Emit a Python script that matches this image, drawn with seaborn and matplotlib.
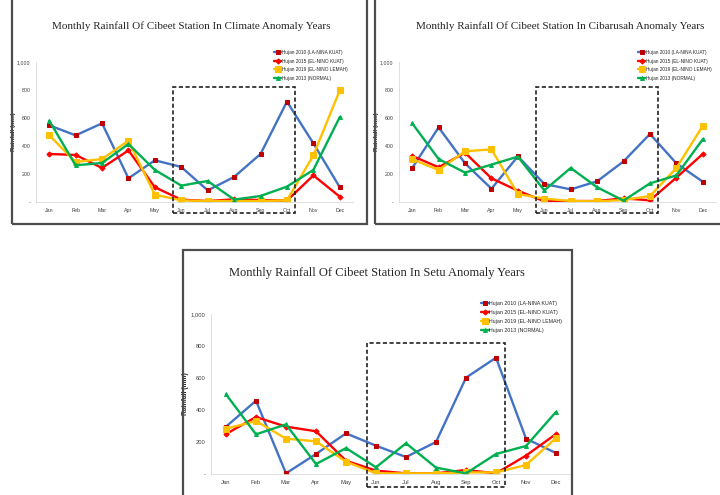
import pandas as pd
import matplotlib
matplotlib.use("Agg")
import matplotlib.pyplot as plt
import matplotlib.ticker as mticker
from matplotlib.patches import Rectangle
import seaborn as sns

# data (mm)
months = ["Jan", "Feb", "Mar", "Apr", "May", "Jun", "Jul", "Aug", "Sep", "Oct", "Nov", "Dec"]
series_names = ["Hujan 2010 (LA-NINA KUAT)", "Hujan 2015 (EL-NINO KUAT)",
                "Hujan 2019 (EL-NINO LEMAH)", "Hujan 2013 (NORMAL)"]

climate_2010 = [548, 476, 562, 169, 298, 250, 83, 179, 343, 717, 419, 105]
climate_2015 = [343, 336, 243, 369, 105, 17, 7, 19, 14, 10, 190, 38]
climate_2019 = [476, 286, 307, 438, 52, 12, 7, 7, 7, 12, 333, 798]
climate_2013 = [581, 262, 279, 414, 229, 117, 150, 17, 43, 110, 229, 607]

cibarusah_2010 = [243, 533, 276, 95, 326, 129, 90, 148, 290, 486, 276, 145]
cibarusah_2015 = [329, 248, 352, 169, 81, 5, 7, 7, 26, 12, 174, 343]
cibarusah_2019 = [305, 229, 362, 376, 57, 24, 7, 5, 14, 43, 243, 545]
cibarusah_2013 = [562, 307, 210, 267, 324, 83, 243, 105, 10, 133, 190, 448]

setu_2010 = [296, 458, 4, 125, 254, 177, 106, 200, 602, 727, 221, 131]
setu_2015 = [250, 356, 296, 267, 83, 21, 4, 4, 25, 4, 115, 250]
setu_2019 = [283, 331, 221, 204, 77, 4, 4, 4, 10, 10, 56, 225]
setu_2013 = [498, 248, 310, 62, 162, 42, 192, 40, 4, 125, 175, 388]

titles = ["Monthly Rainfall Of Cibeet Station In Climate Anomaly Years",
          "Monthly Rainfall Of Cibeet Station In Cibarusah Anomaly Years",
          "Monthly Rainfall Of Cibeet Station In Setu Anomaly Years"]

line_colors = ["#4472C4", "#FF0000", "#FFC000", "#00B050"]
marker_colors = ["#C00000", "#FF0000", "#FFC000", "#00B050"]
marker_shapes = ["s", "D", "s", "^"]
marker_sizes = [3.4, 2.6, 3.8, 2.8]

sns.set_theme(style="white")
plt.rcParams["font.family"] = ["Liberation Sans", "DejaVu Sans"]

W, H = 720, 495
fig = plt.figure(figsize=(7.2, 4.95), dpi=100)


def px_axes(l, t, r, b):
    return fig.add_axes([l / W, 1 - b / H, (r - l) / W, (b - t) / H])


def frame(l, t, r, b):
    fig.patches.append(Rectangle((l / W, 1 - b / H), (r - l) / W, (b - t) / H,
                                 transform=fig.transFigure, fill=False,
                                 edgecolor="#4d4d4d", linewidth=1.6))


def y_fmt(v, pos):
    return "-" if v == 0 else f"{int(v):,}"


def draw_panel(ax, values, title, title_xy, title_size, legend_xy, fs, label_fs, legend_fs):
    df = pd.DataFrame({"month": list(range(12)) * 4,
                       "rain": sum(values, []),
                       "series": [s for s in series_names for _ in months]})
    for i, name in enumerate(series_names):
        sub = df[df["series"] == name]
        sns.lineplot(data=sub, x="month", y="rain", ax=ax, color=line_colors[i],
                     linewidth=1.7, marker=marker_shapes[i], markersize=marker_sizes[i],
                     markerfacecolor=marker_colors[i], markeredgecolor=marker_colors[i],
                     label=name)
    ax.set_xlim(-0.5, 11.5)
    ax.set_ylim(0, 1000)
    ax.set_xticks(range(12))
    ax.set_xticklabels(months)
    ax.set_yticks(range(0, 1001, 200))
    ax.yaxis.set_major_formatter(mticker.FuncFormatter(y_fmt))
    ax.tick_params(axis="both", labelsize=fs, colors="#404040", length=0, pad=4)
    ax.set_xlabel("")
    ax.set_ylabel("Rainfall (mm)", fontsize=label_fs, fontweight="bold", color="#222222", labelpad=1)
    for side in ["top", "right"]:
        ax.spines[side].set_visible(False)
    for side in ["left", "bottom"]:
        ax.spines[side].set_color("#d9d9d9")
        ax.spines[side].set_linewidth(0.6)
    ax.set_facecolor("none")
    # dashed box over the Jun-Oct dry season
    ax.add_patch(Rectangle((4.7, -80), 4.6, 900, fill=False, edgecolor="#222222",
                           linestyle=(0, (2.5, 1.5)), linewidth=1.2, clip_on=False, zorder=5))
    ax.legend(loc="upper left", bbox_to_anchor=(legend_xy[0] / W, 1 - legend_xy[1] / H),
              bbox_transform=fig.transFigure, frameon=False, fontsize=legend_fs,
              handlelength=1.5, handletextpad=0.1, labelspacing=0.75,
              borderpad=0, borderaxespad=0)
    fig.text(title_xy[0] / W, 1 - title_xy[1] / H, title, ha="center", va="center",
             fontsize=title_size, family="Liberation Serif", color="#262626")


# panel frames
frame(12, -10, 367, 224)
frame(375, -10, 730, 224)
frame(183, 250, 572, 505)

ax1 = px_axes(36, 62, 353, 202)
draw_panel(ax1, [climate_2010, climate_2015, climate_2019, climate_2013], titles[0],
           (191, 26), 8.0, (274, 50), 3.8, 4.4, 3.4)

ax2 = px_axes(399, 62, 716, 202)
draw_panel(ax2, [cibarusah_2010, cibarusah_2015, cibarusah_2019, cibarusah_2013], titles[1],
           (560, 26), 8.0, (638, 50), 3.8, 4.4, 3.4)

ax3 = px_axes(211, 314, 571, 474)
draw_panel(ax3, [setu_2010, setu_2015, setu_2019, setu_2013], titles[2],
           (377, 273), 9.0, (481, 301), 4.2, 4.8, 3.8)

fig.savefig("out.png", dpi=100)
